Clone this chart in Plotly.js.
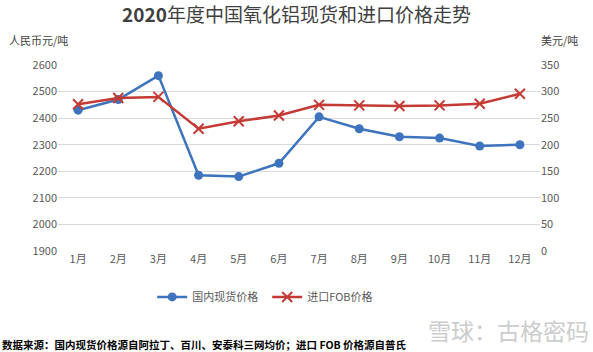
<!DOCTYPE html>
<html><head><meta charset="utf-8">
<script src="https://cdn.plot.ly/plotly-3.0.1.min.js"></script>
<style>html,body{margin:0;padding:0;background:#fff}#c{width:593px;height:352px}</style>
</head><body><div id="c"></div>
<script>
const months = ["1月","2月","3月","4月","5月","6月","7月","8月","9月","10月","11月","12月"];
const domesticPrice = [2430,2470,2560,2185,2180,2230,2405,2360,2330,2325,2295,2300];
const importFOB = [276,288,290,230,244,255,275,274,273,274,277,296];
const F = '"Noto Sans CJK SC", "Noto Sans", sans-serif';
const traces = [
  {x: months, y: domesticPrice, name: "国内现货价格", type: "scatter", mode: "lines+markers",
   line: {color: "#3d74bd", width: 2.5}, marker: {symbol: "circle", size: 9, color: "#3d74bd"}, yaxis: "y"},
  {x: months, y: importFOB, name: "进口FOB价格", type: "scatter", mode: "lines+markers",
   line: {color: "#c43a35", width: 2.5}, marker: {symbol: "x-thin", size: 10, color: "#c43a35", line: {color: "#c43a35", width: 2}}, yaxis: "y2"}
];
const layout = {
  width: 593, height: 352,
  margin: {l: 58, r: 53, t: 65, b: 101},
  paper_bgcolor: "#fff", plot_bgcolor: "#fff",
  font: {family: F, color: "#595959", size: 11},
  title: {text: "<b>2020</b>年度中国氧化铝现货和进口价格走势", x: 0.5, xanchor: "center", y: 0.955, yanchor: "middle",
          font: {family: F, size: 19, color: "#404040"}},
  xaxis: {type: "category", range: [-0.5, 11.5], showgrid: false, zeroline: false, showline: false,
          ticks: "", tickfont: {size: 11, color: "#595959"}},
  yaxis: {range: [1900, 2600], dtick: 100, showgrid: true, gridcolor: "#d9d9d9", gridwidth: 1, zeroline: false,
          showline: false, ticks: "", tickfont: {size: 11, color: "#595959"}},
  yaxis2: {range: [0, 350], dtick: 50, overlaying: "y", side: "right", showgrid: false, zeroline: false,
           showline: false, ticks: "", tickfont: {size: 11, color: "#595959"}},
  showlegend: true,
  legend: {orientation: "h", x: 0.434, xanchor: "center", y: -0.247, yanchor: "middle", font: {size: 11, color: "#595959"},
           entrywidth: 70, entrywidthmode: "pixels", itemwidth: 30},
  annotations: [
    {text: "人民币元/吨", xref: "paper", yref: "paper", x: -0.105, xanchor: "left", y: 1.135, yanchor: "middle", showarrow: false,
     font: {size: 11, color: "#404040"}},
    {text: "美元/吨", xref: "paper", yref: "paper", x: 1.083, xanchor: "right", y: 1.135, yanchor: "middle", showarrow: false,
     font: {size: 11, color: "#404040"}},
    {text: "<b>数据来源：国内现货价格源自阿拉丁、百川、安泰科三网均价；进口 FOB 价格源自普氏</b>", xref: "paper", yref: "paper",
     x: -0.12, xanchor: "left", y: -0.5, yanchor: "middle", showarrow: false, font: {size: 10.5, color: "#000"}},
    {text: "雪球：古格密码", xref: "paper", yref: "paper", x: 1.105, xanchor: "right", y: -0.425, yanchor: "middle", showarrow: false,
     font: {size: 23, color: "#cccccc"}}
  ]
};
Plotly.newPlot("c", traces, layout, {staticPlot: true, displayModeBar: false});
</script></body></html>
